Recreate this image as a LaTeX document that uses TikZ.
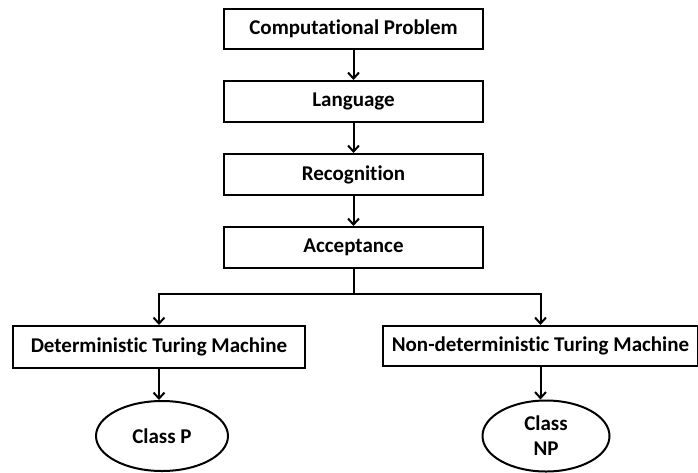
\documentclass[tikz,border=0pt]{standalone}
\usepackage{fontspec}
\setmainfont[Ligatures=NoCommon]{Carlito}
\usetikzlibrary{arrows.meta,shapes.geometric}
\begin{document}
\begin{tikzpicture}[x=1pt,y=-1pt,
  box/.style={draw,line width=2pt,rectangle,inner sep=0pt,font=\fontsize{21}{24}\selectfont\bfseries},
  oval/.style={draw,line width=2pt,ellipse,inner sep=0pt,align=center,font=\fontsize{21}{25}\selectfont\bfseries},
  arr/.style={line width=2pt,-{Straight Barb[length=6pt,width=11pt,line width=2pt]}},
  ln/.style={line width=2pt}]
\useasboundingbox (0,0) rectangle (698,472);
\node[box,minimum width=259pt,minimum height=40pt] (cp) at (353.5,29) {Computational Problem};
\node[box,minimum width=259pt,minimum height=41pt] (lang) at (353.5,101.5) {Language};
\node[box,minimum width=259pt,minimum height=41pt] (rec) at (353.5,174.5) {Recognition};
\node[box,minimum width=259pt,minimum height=41pt] (acc) at (353.5,247.5) {Acceptance};
\node[box,minimum width=292pt,minimum height=42pt] (dtm) at (159,347) {Deterministic Turing Machine};
\node[box,minimum width=315pt,minimum height=40pt] (ntm) at (540.5,346) {Non-deterministic Turing Machine};
\node[oval,minimum width=132pt,minimum height=70pt] (p) at (162,436) {Class P};
\node[oval,minimum width=127pt,minimum height=71pt] (np) at (546,436) {Class\\NP};
\coordinate (split) at (353.5,294);
\draw[arr] (cp) -- (lang);
\draw[arr] (lang) -- (rec);
\draw[arr] (rec) -- (acc);
\draw[ln] (acc) -- (split);
\draw[arr] (split) -| (dtm);
\draw[arr] (split) -| (ntm);
\draw[arr] (dtm.south) -- (dtm.south |- p.north);
\draw[arr] (ntm.south) -- (ntm.south |- np.north);
\end{tikzpicture}
\end{document}
